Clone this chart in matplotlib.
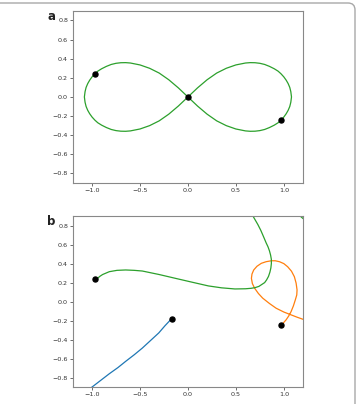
import matplotlib
matplotlib.use("Agg")
import matplotlib.pyplot as plt
from matplotlib.patches import FancyBboxPatch

# --- data ---
# (a) figure-eight orbit, traced by hand
eight_x = [0, 0.1, 0.2, 0.3, 0.4, 0.5, 0.6, 0.65, 0.7, 0.75, 0.8, 0.85, 0.9, 0.94, 0.97, 1.0, 1.025, 1.045, 1.062, 1.073, 1.08,
           1.073, 1.062, 1.045, 1.025, 1.0, 0.97, 0.94, 0.9, 0.85, 0.8, 0.75, 0.7, 0.65, 0.6, 0.5, 0.4, 0.3, 0.2, 0.1, 0,
           -0.1, -0.2, -0.3, -0.4, -0.5, -0.6, -0.65, -0.7, -0.75, -0.8, -0.85, -0.9, -0.94, -0.97, -1.0, -1.025, -1.045, -1.062, -1.073, -1.08,
           -1.073, -1.062, -1.045, -1.025, -1.0, -0.97, -0.94, -0.9, -0.85, -0.8, -0.75, -0.7, -0.65, -0.6, -0.5, -0.4, -0.3, -0.2, -0.1, 0]
eight_y = [0, 0.095, 0.18, 0.25, 0.3, 0.335, 0.355, 0.359, 0.358, 0.352, 0.34, 0.32, 0.295, 0.27, 0.243, 0.21, 0.175, 0.14, 0.1, 0.055, 0,
           -0.055, -0.1, -0.14, -0.175, -0.21, -0.243, -0.27, -0.295, -0.32, -0.34, -0.352, -0.358, -0.359, -0.355, -0.335, -0.3, -0.25, -0.18, -0.095, 0,
           0.095, 0.18, 0.25, 0.3, 0.335, 0.355, 0.359, 0.358, 0.352, 0.34, 0.32, 0.295, 0.27, 0.243, 0.21, 0.175, 0.14, 0.1, 0.055, 0,
           -0.055, -0.1, -0.14, -0.175, -0.21, -0.243, -0.27, -0.295, -0.32, -0.34, -0.352, -0.358, -0.359, -0.355, -0.335, -0.3, -0.25, -0.18, -0.095, 0]
bodies_a_x = [-0.97, 0.0, 0.97]
bodies_a_y = [0.243, 0.0, -0.243]

# (b) perturbed run
blue_x = [-0.17, -0.24, -0.304, -0.39, -0.476, -0.56, -0.65, -0.73, -0.82, -0.91, -1.0, -1.06]
blue_y = [-0.18, -0.255, -0.33, -0.41, -0.49, -0.56, -0.63, -0.695, -0.76, -0.83, -0.90, -0.94]

orange_x = [0.965, 0.995, 1.024, 1.052, 1.076, 1.1, 1.12, 1.135, 1.138, 1.128, 1.11, 1.08, 1.04, 1.0,
            0.955, 0.91, 0.87, 0.815, 0.765, 0.72, 0.686, 0.668, 0.662, 0.672, 0.696, 0.735, 0.78,
            0.85, 0.92, 1.0, 1.076, 1.14, 1.196, 1.3]
orange_y = [-0.248, -0.225, -0.192, -0.15, -0.105, -0.045, 0.018, 0.07, 0.123, 0.195, 0.262, 0.32, 0.367, 0.4,
            0.42, 0.43, 0.43, 0.42, 0.403, 0.372, 0.333, 0.29, 0.245, 0.19, 0.14, 0.085, 0.036,
            -0.02, -0.07, -0.11, -0.14, -0.165, -0.185, -0.23]

green_x = [-0.95, -0.92, -0.89, -0.82, -0.74, -0.65, -0.56, -0.476, -0.3, -0.131, 0.04, 0.213, 0.35, 0.49,
           0.6, 0.66, 0.70, 0.74, 0.77, 0.80, 0.82, 0.84, 0.855, 0.865, 0.87, 0.87, 0.862, 0.85, 0.835, 0.815,
           0.79, 0.76, 0.73, 0.69, 0.65,
           0.8, 1.0, 1.12, 1.16, 1.2, 1.25]
green_y = [0.238, 0.265, 0.285, 0.315, 0.329, 0.333, 0.329, 0.322, 0.285, 0.245, 0.205, 0.165, 0.145, 0.133,
           0.135, 0.14, 0.147, 0.16, 0.18, 0.2, 0.228, 0.265, 0.31, 0.355, 0.40, 0.445, 0.49, 0.535, 0.577, 0.62,
           0.68, 0.75, 0.81, 0.88, 0.95,
           1.3, 1.15, 0.95, 0.91, 0.875, 0.84]
bodies_b_x = [-0.97, -0.17, 0.97]
bodies_b_y = [0.243, -0.18, -0.248]

fig = plt.figure(figsize=(3.59, 4.04), dpi=100)

# rounded frame round the figure (only top and right edges show), in pixels
frame = FancyBboxPatch((-60, -60), 60 + 355, 60 + 401,
                       boxstyle="round,pad=0,rounding_size=7",
                       transform=None, fill=False,
                       edgecolor="#a8a8a8", linewidth=1.0)
fig.patches.append(frame)

ax1 = fig.add_axes([0.203, 0.547, 0.641, 0.426])
ax2 = fig.add_axes([0.203, 0.042, 0.641, 0.423])

ax1.plot(eight_x, eight_y, color="tab:green", lw=0.9)
ax1.plot(bodies_a_x, bodies_a_y, "o", color="black", ms=3.6)

ax2.plot(blue_x, blue_y, color="tab:blue", lw=0.9)
ax2.plot(orange_x, orange_y, color="tab:orange", lw=0.9)
ax2.plot(green_x, green_y, color="tab:green", lw=0.9)
ax2.plot(bodies_b_x, bodies_b_y, "o", color="black", ms=3.6)

for ax, lab in [(ax1, "a"), (ax2, "b")]:
    ax.set_xlim(-1.2, 1.2)
    ax.set_ylim(-0.9, 0.9)
    ax.set_xticks([-1.0, -0.5, 0.0, 0.5, 1.0])
    ax.set_yticks([-0.8, -0.6, -0.4, -0.2, 0.0, 0.2, 0.4, 0.6, 0.8])
    ax.tick_params(labelsize=4.6, length=2, width=0.5, colors="#333333", pad=1.5)
    for s in ax.spines.values():
        s.set_color("#888888")
        s.set_linewidth(0.8)
    ax.text(-0.112, 1.008, lab, transform=ax.transAxes, fontsize=8.5, fontweight="bold",
            ha="left", va="top", color="#222222")

fig.savefig("out.png", dpi=100)
